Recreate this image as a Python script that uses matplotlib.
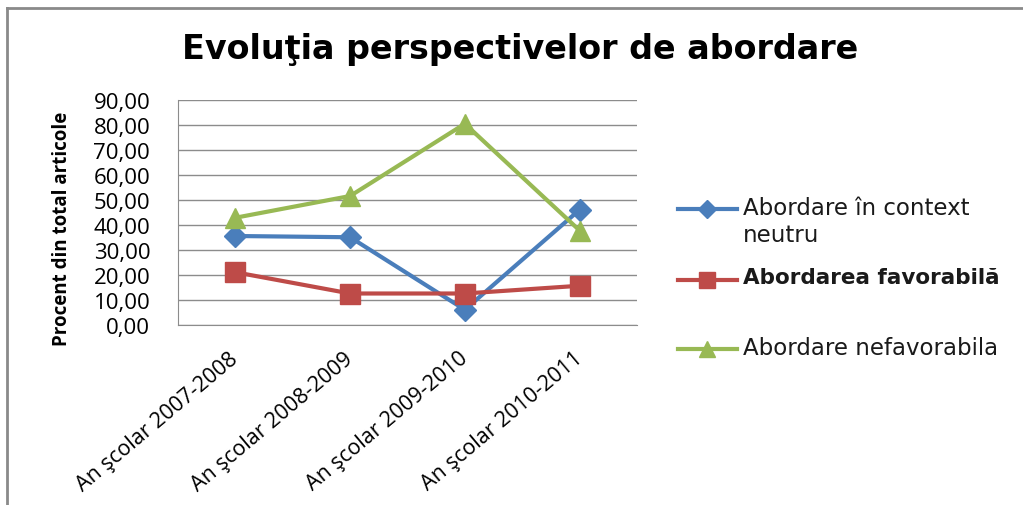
import numpy as np
import matplotlib.pyplot as plt
from matplotlib.lines import Line2D

# data
years = ['An şcolar 2007-2008', 'An şcolar 2008-2009',
         'An şcolar 2009-2010', 'An şcolar 2010-2011']
neutru = [35.6, 35.1, 6.1, 46.1]
favorabila = [21.1, 12.6, 12.6, 15.7]
nefavorabila = [42.9, 51.6, 80.5, 37.8]

series_names = ['Abordare în context\nneutru', 'Abordarea favorabilă',
                'Abordare nefavorabila']
series_colors = ['#4A7EBB', '#BE4B48', '#98B954']
series_markers = ['D', 's', '^']
series_sizes = [11, 14, 14]
yticks = np.arange(0, 91, 10)

W, H = 1023, 506
fig = plt.figure(figsize=(W / 100, H / 100), dpi=100)
ax = fig.add_axes([178 / W, 1 - 326 / H, (637 - 178) / W, (326 - 101) / H])

x = np.arange(len(years))
all_series = [neutru, favorabila, nefavorabila]
for i, vals in enumerate(all_series):
    ax.plot(x, vals, color=series_colors[i], lw=3, marker=series_markers[i],
            ms=series_sizes[i], zorder=3 + i, solid_capstyle='round')

ax.set_xlim(-0.5, len(years) - 0.5)
ax.set_ylim(0, 90)
ax.set_yticks(yticks)
ax.set_yticklabels([f'{v:.2f}'.replace('.', ',') for v in yticks],
                   family='Open Sans', fontsize=16)
ax.set_xticks(x)
ax.set_xticklabels(years, family='Open Sans', fontsize=15.5, rotation=40,
                   ha='right', va='center', rotation_mode='anchor')
ax.tick_params(axis='y', length=0, pad=20)
ax.tick_params(axis='x', length=0, pad=22)
ax.grid(axis='y', color='#8c8c8c', lw=1)
ax.set_axisbelow(True)
for s in ['top', 'right']:
    ax.spines[s].set_visible(False)
for s in ['left', 'bottom']:
    ax.spines[s].set_color('#8c8c8c')

fig.text(520 / W, 1 - 50 / H, 'Evoluţia perspectivelor de abordare',
         family='DejaVu Sans', fontsize=24, fontweight='bold',
         ha='center', va='center')
fig.text(62 / W, 1 - 229 / H, 'Procent din total articole', family='Open Sans',
         fontsize=13.5, fontweight='bold', rotation=90, ha='center', va='center')

# legend drawn by hand so the marker sits on the first text line
leg_y = [210, 281, 350]
leg_weight = ['normal', 'bold', 'normal']
leg_size = [16.5, 15.5, 16.5]
for i in range(3):
    yf = 1 - leg_y[i] / H
    fig.add_artist(Line2D([678 / W, 737 / W], [yf, yf], transform=fig.transFigure,
                          color=series_colors[i], lw=3))
    fig.add_artist(Line2D([707 / W], [yf], transform=fig.transFigure,
                          color=series_colors[i], marker=series_markers[i],
                          ms=series_sizes[i] * 0.85, lw=0))
    fig.text(743 / W, yf + 13 / H, series_names[i], family='DejaVu Sans',
             fontsize=leg_size[i], fontweight=leg_weight[i], ha='left', va='top',
             linespacing=1.2, color='#1a1a1a')

# outer chart frame (top and left edges visible)
fig.add_artist(Line2D([7 / W, 1], [1 - 9 / H, 1 - 9 / H],
                      transform=fig.transFigure, color='#8a8a8a', lw=2))
fig.add_artist(Line2D([7 / W, 7 / W], [0, 1 - 9 / H],
                      transform=fig.transFigure, color='#8a8a8a', lw=2))

fig.savefig('out.png', dpi=100)
